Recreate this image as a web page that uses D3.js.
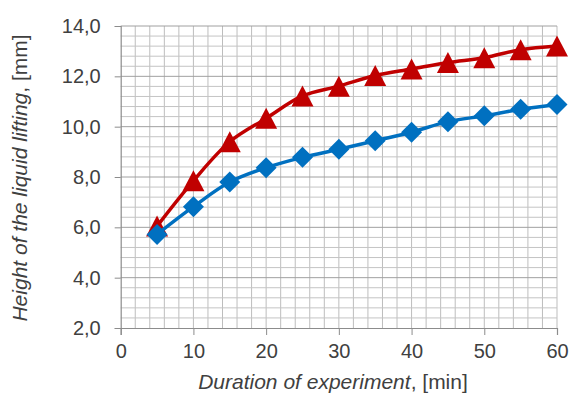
<!DOCTYPE html>
<html>
<head>
<meta charset="utf-8" />
<title>Liquid lifting</title>
<script src="https://d3js.org/d3.v7.min.js"></script>
<style>
  body { margin: 0; background: #fff; }
  text { font-family: "Liberation Sans", Arial, sans-serif; fill: #404040; }
</style>
</head>
<body>
<script>
// data
var minutes = [5, 10, 15, 20, 25, 30, 35, 40, 45, 50, 55, 60];
var redSeries = [6.05, 7.85, 9.40, 10.33, 11.22, 11.61, 12.03, 12.29, 12.55, 12.74, 13.06, 13.21];
var blueSeries = [5.72, 6.82, 7.80, 8.37, 8.78, 9.10, 9.44, 9.78, 10.20, 10.43, 10.69, 10.88];
var xTicks = [0, 10, 20, 30, 40, 50, 60];
var yTicks = [2, 4, 6, 8, 10, 12, 14];

var width = 573, height = 394;
var margin = {left: 120.7, top: 26, right: 16, bottom: 66};

var svg = d3.select("body").append("svg")
    .attr("width", width)
    .attr("height", height);

var x = d3.scaleLinear().domain([0, 60]).range([margin.left, width - margin.right]);
var y = d3.scaleLinear().domain([2, 14]).range([height - margin.bottom, margin.top]);

// grid: minor every 2 min and every 0.4 mm
var grid = svg.append("g");
grid.selectAll("line.vx")
    .data(d3.range(2, 61, 2))
    .enter().append("line")
    .attr("x1", function(d){ return x(d); })
    .attr("x2", function(d){ return x(d); })
    .attr("y1", y(2)).attr("y2", y(14))
    .attr("stroke", "#bdbdbd").attr("stroke-width", 1);
grid.selectAll("line.hy")
    .data(d3.range(2.4, 14.01, 0.4))
    .enter().append("line")
    .attr("x1", x(0)).attr("x2", x(60))
    .attr("y1", function(d){ return y(d); })
    .attr("y2", function(d){ return y(d); })
    .attr("stroke", function(d){
        return Math.abs(d / 2 - Math.round(d / 2)) < 0.01 ? "#a0a0a0" : "#c4c4c4";
    })
    .attr("stroke-width", 1);

// axes
var xAxis = d3.axisBottom(x).tickValues(xTicks).tickSize(7).tickPadding(9)
    .tickFormat(d3.format("d"));
var yAxis = d3.axisLeft(y).tickValues(yTicks).tickSize(6).tickPadding(14)
    .tickFormat(function(d){ return d.toFixed(1).replace(".", ","); });

var gx = svg.append("g")
    .attr("transform", "translate(0," + y(2) + ")")
    .call(xAxis);
var gy = svg.append("g")
    .attr("transform", "translate(" + x(0) + ",0)")
    .call(yAxis);

[gx, gy].forEach(function(g){
    g.select(".domain").attr("stroke", "#8c8c8c").attr("stroke-width", 1.2);
    g.selectAll(".tick line").attr("stroke", "#8c8c8c");
    g.selectAll(".tick text")
        .attr("fill", "#404040")
        .style("font-size", "20px")
        .style("font-family", "'Liberation Sans', Arial, sans-serif");
});

// axis titles
var xt = svg.append("text")
    .attr("x", 333)
    .attr("y", 389)
    .attr("text-anchor", "middle")
    .style("font-size", "21px");
xt.append("tspan").style("font-style", "italic").text("Duration of experiment");
xt.append("tspan").text(", [min]");

var yt = svg.append("text")
    .attr("transform", "translate(27,178) rotate(-90)")
    .attr("text-anchor", "middle")
    .style("font-size", "21px");
yt.append("tspan").style("font-style", "italic").text("Height of the liquid lifting");
yt.append("tspan").text(", [mm]");

// series
var series = [
    {values: redSeries, color: "#c00000", shape: "triangle"},
    {values: blueSeries, color: "#0070c0", shape: "diamond"}
];

var line = d3.line()
    .x(function(d){ return x(d[0]); })
    .y(function(d){ return y(d[1]); })
    .curve(d3.curveCatmullRom);

var triangle = "M0,-10.5L11,10.5L-11,10.5Z";
var diamond = "M0,-10.5L10.5,0L0,10.5L-10.5,0Z";

series.forEach(function(s){
    var pts = minutes.map(function(m, i){ return [m, s.values[i]]; });
    svg.append("path")
        .datum(pts)
        .attr("d", line)
        .attr("fill", "none")
        .attr("stroke", s.color)
        .attr("stroke-width", 3.5);
    svg.selectAll(null)
        .data(pts)
        .enter().append("path")
        .attr("d", s.shape == "triangle" ? triangle : diamond)
        .attr("transform", function(d){ return "translate(" + x(d[0]) + "," + y(d[1]) + ")"; })
        .attr("fill", s.color);
});
</script>
</body>
</html>
